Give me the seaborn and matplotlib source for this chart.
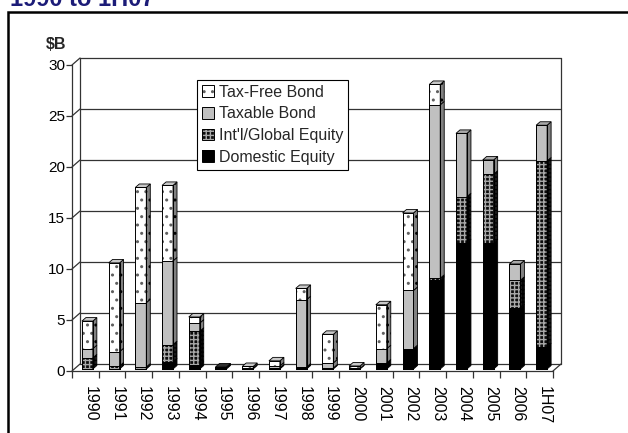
import matplotlib
matplotlib.use("Agg")
import matplotlib.pyplot as plt
import matplotlib.patches as mpatches
import numpy as np
import pandas as pd
import seaborn as sns

# ---- data ($ billions) ----
years = ["1990", "1991", "1992", "1993", "1994", "1995", "1996", "1997", "1998",
         "1999", "2000", "2001", "2002", "2003", "2004", "2005", "2006", "1H07"]
domestic_equity = [0.0, 0.0, 0.0, 0.7, 0.4, 0.2, 0.0, 0.1, 0.2,
                   0.1, 0.0, 0.6, 2.0, 8.7, 12.4, 12.4, 6.0, 2.2]
intl_equity     = [1.1, 0.3, 0.2, 1.7, 3.3, 0.0, 0.0, 0.0, 0.0,
                   0.0, 0.0, 0.0, 0.0, 0.2, 4.5, 6.7, 2.7, 18.2]
taxable_bond    = [0.9, 1.4, 6.3, 8.2, 0.8, 0.0, 0.1, 0.2, 6.6,
                   0.5, 0.05, 1.4, 5.7, 17.0, 6.2, 1.4, 1.6, 3.5]
tax_free_bond   = [2.7, 8.7, 11.3, 7.4, 0.6, 0.0, 0.15, 0.5, 1.1,
                   2.8, 0.25, 4.3, 7.6, 2.0, 0.0, 0.0, 0.0, 0.0]
y_ticks = [0, 5, 10, 15, 20, 25, 30]

series_names = ["Domestic Equity", "Int'l/Global Equity", "Taxable Bond", "Tax-Free Bond"]
series_vals = [domestic_equity, intl_equity, taxable_bond, tax_free_bond]

# face colour, hatch, hatch colour, side colour, top colour
styles = {
    "Domestic Equity":     dict(face="#000000", hatch="",    hcol="#000000", side="#000000", top="#303030"),
    "Int'l/Global Equity": dict(face="#0d0d0d", hatch="++++", hcol="#a8a8a8", side="#1a1a1a", top="#606060"),
    "Taxable Bond":        dict(face="#c0c0c0", hatch="",    hcol="#c0c0c0", side="#808080", top="#a8a8a8"),
    "Tax-Free Bond":       dict(face="#ffffff", hatch="..",  hcol="#606060", side="#808080", top="#c8c8c8"),
}

df = pd.DataFrame({"year": years})
for name, vals in zip(series_names, series_vals):
    df[name] = vals

sns.set_theme(style="white")
plt.rcParams["font.family"] = ["Liberation Sans", "DejaVu Sans"]
plt.rcParams["hatch.linewidth"] = 1.0

fig = plt.figure(figsize=(6.28, 4.33), dpi=100)

# geometry of the pseudo-3D box (data units)
FRONT_Y0 = -0.196     # front floor edge relative to bar baseline
X_LEFT = -0.575       # front-left corner
X_RIGHT = 17.425      # front-right corner
WALL_DX, WALL_DY = 0.30, 0.686   # depth of floor / walls
BAR_W = 0.41
BAR_DX, BAR_DY = 0.15, 0.34      # depth of each bar

ax = fig.add_axes([72 / 628, (433 - 371) / 433, 489 / 628, 313 / 433])
ax.set_facecolor("none")

# ---- stacked bars: cumulative totals drawn tallest first ----
cum = np.zeros(len(years))
cums = []
for name in series_names:
    cum = cum + df[name].to_numpy()
    cums.append(cum.copy())

for name, c in reversed(list(zip(series_names, cums))):
    st = styles[name]
    sns.barplot(x=years, y=c, order=years, color=st["face"], saturation=1,
                hatch=st["hatch"], edgecolor=st["hcol"], linewidth=0,
                width=BAR_W, errorbar=None, ax=ax, zorder=3)
for c in cums:
    sns.barplot(x=years, y=c, order=years, fill=False, edgecolor="#000000",
                linewidth=0.7, width=BAR_W, errorbar=None, ax=ax, zorder=4)

# ---- side and top faces of each bar ----
for i in range(len(years)):
    xl = i - BAR_W / 2
    xr = i + BAR_W / 2
    base = 0.0
    top_name = None
    for name in series_names:
        v = df[name].iloc[i]
        if v <= 0:
            continue
        st = styles[name]
        y0, y1 = base, base + v
        ax.add_patch(mpatches.Polygon([(xr, y0), (xr + BAR_DX, y0 + BAR_DY),
                                       (xr + BAR_DX, y1 + BAR_DY), (xr, y1)],
                                      closed=True, facecolor=st["side"],
                                      edgecolor="#000000", linewidth=0.6, zorder=3,
                                      hatch=st["hatch"]))
        base = y1
        top_name = name
    if top_name is not None:
        st = styles[top_name]
        ax.add_patch(mpatches.Polygon([(xl, base), (xl + BAR_DX, base + BAR_DY),
                                       (xr + BAR_DX, base + BAR_DY), (xr, base)],
                                      closed=True, facecolor=st["top"],
                                      edgecolor="#000000", linewidth=0.6, zorder=3))

# ---- back wall, floor and gridlines ----
bx0, bx1 = X_LEFT + WALL_DX, X_RIGHT + WALL_DX
by0 = FRONT_Y0 + WALL_DY
grid_kw = dict(color="#333333", linewidth=0.9, zorder=1, clip_on=False)
for v in y_ticks:
    ax.plot([bx0, bx1], [by0 + v, by0 + v], **grid_kw)
    ax.plot([X_LEFT, bx0], [FRONT_Y0 + v, by0 + v], **grid_kw)
ax.plot([bx0, bx0], [by0, by0 + 30], **grid_kw)
ax.plot([bx1, bx1], [by0, by0 + 30], **grid_kw)
ax.plot([X_RIGHT, bx1], [FRONT_Y0, by0], **grid_kw)

# ---- axes ----
ax.set_xlim(X_LEFT, bx1)
ax.set_ylim(FRONT_Y0, by0 + 30)
for s in ["top", "right"]:
    ax.spines[s].set_visible(False)
ax.spines["left"].set_bounds(FRONT_Y0, FRONT_Y0 + 30)
ax.spines["bottom"].set_bounds(X_LEFT, X_RIGHT)
for s in ["left", "bottom"]:
    ax.spines[s].set_color("#333333")
    ax.spines[s].set_linewidth(0.9)

ax.set_yticks([FRONT_Y0 + v for v in y_ticks])
ax.set_yticklabels([str(v) for v in y_ticks], fontsize=11, color="#000000")
ax.tick_params(axis="y", direction="out", length=4, width=0.9, color="#333333",
               pad=1, left=True)

ax.set_xticks([i + 0.1 for i in range(len(years))])
ax.set_xticklabels(years, rotation=270, fontsize=11.5, color="#000000")
ax.set_xticks([X_LEFT + k for k in range(len(years) + 1)], minor=True)
ax.tick_params(axis="x", which="major", length=0, pad=11, bottom=True)
ax.tick_params(axis="x", which="minor", direction="out", length=5, width=0.9,
               color="#333333", bottom=True)
ax.set_xlabel("")
ax.set_ylabel("")
ax.grid(False)

fig.text(56 / 628, 1 - 49 / 433, "$B", fontsize=11.5, fontweight="bold",
         ha="center", va="baseline")

# ---- legend: hatch layer plus black outline per entry ----
handles = []
for n in reversed(series_names):
    st = styles[n]
    fill_patch = mpatches.Patch(facecolor=st["face"], hatch=st["hatch"],
                                edgecolor=st["hcol"], linewidth=0)
    edge_patch = mpatches.Patch(fill=False, edgecolor="#000000", linewidth=0.7)
    handles.append((fill_patch, edge_patch))
leg = fig.legend(handles, list(reversed(series_names)), loc="upper left",
                 bbox_to_anchor=(197 / 628, 1 - 80 / 433), bbox_transform=fig.transFigure,
                 fontsize=11.5, frameon=True, fancybox=False, framealpha=1,
                 edgecolor="#000000", borderaxespad=0, borderpad=0.3,
                 handlelength=0.75, handleheight=0.75, handletextpad=0.3,
                 labelspacing=0.42)
leg.get_frame().set_linewidth(0.8)
leg.set_zorder(10)

# ---- title strip and frame ----
fig.text(10 / 628, 1 - 6 / 433, "1990 to 1H07", fontsize=17, fontweight="bold",
         color="#1c1c78", ha="left", va="baseline")
fig.add_artist(mpatches.Rectangle((8 / 628, -0.1), 1.2, 1 - 12 / 433 + 0.1,
                                  transform=fig.transFigure, fill=False,
                                  edgecolor="#000000", linewidth=1.8))

fig.savefig("out.png", dpi=100)
